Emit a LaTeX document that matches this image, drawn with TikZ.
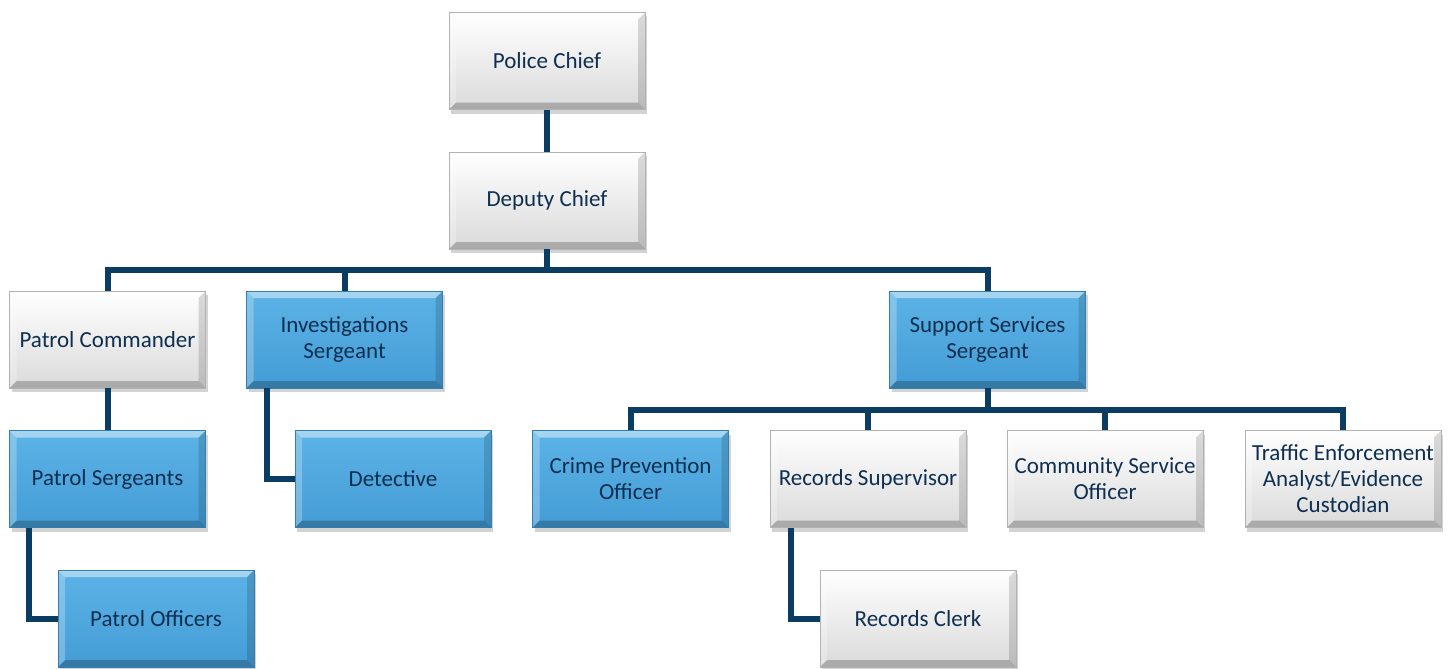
\documentclass[tikz,border=0pt]{standalone}
\usepackage{fontspec}
\setmainfont{Carlito}
\usetikzlibrary{shadows,backgrounds}
\definecolor{txt}{HTML}{0E2F50}
\definecolor{conn}{HTML}{0B3C61}
\definecolor{blueA}{HTML}{5BB3E6}
\definecolor{blueB}{HTML}{449CD6}
\definecolor{grayA}{HTML}{FFFFFF}
\definecolor{grayB}{HTML}{DADADA}
\tikzset{
  bevel/.style={path picture={
    \def\b{7pt}
    \coordinate (bnw) at (path picture bounding box.north west);
    \coordinate (bne) at (path picture bounding box.north east);
    \coordinate (bsw) at (path picture bounding box.south west);
    \coordinate (bse) at (path picture bounding box.south east);
    \fill[white,opacity=0.45] (bnw) -- (bne) -- ([xshift=-\b,yshift=-\b]bne) -- ([xshift=\b,yshift=-\b]bnw) -- cycle;
    \fill[white,opacity=0.25] (bnw) -- (bsw) -- ([xshift=\b,yshift=\b]bsw) -- ([xshift=\b,yshift=-\b]bnw) -- cycle;
    \fill[black,opacity=0.22] (bsw) -- (bse) -- ([xshift=-\b,yshift=\b]bse) -- ([xshift=\b,yshift=\b]bsw) -- cycle;
    \fill[black,opacity=0.14] (bse) -- (bne) -- ([xshift=-\b,yshift=-\b]bne) -- ([xshift=-\b,yshift=\b]bse) -- cycle;
  }},
  box/.style={rectangle, minimum width=196pt, minimum height=97pt, inner sep=2pt,
    align=center, text=txt, font=\fontsize{23}{26}\selectfont, bevel,
    drop shadow={opacity=0.35, shadow xshift=2pt, shadow yshift=-4pt}},
  graybox/.style={box, top color=grayA, bottom color=grayB, draw=gray!60, line width=0.6pt},
  bluebox/.style={box, top color=blueA, bottom color=blueB, draw=blueB!80!black, line width=0.6pt},
  link/.style={draw=conn, line width=6pt, line join=miter},
}
\begin{document}
\begin{tikzpicture}[x=1pt,y=-1pt]
\useasboundingbox (0,0) rectangle (1456,669);
\node[graybox] (chief) at (547,61) {Police Chief};
\node[graybox] (dep) at (547,200.5) {Deputy Chief};
\node[graybox] (pc) at (107.5,339.5) {Patrol Commander};
\node[bluebox] (inv) at (344.5,339.5) {Investigations\\Sergeant};
\node[bluebox] (sup) at (987.5,339.5) {Support Services\\Sergeant};
\node[bluebox] (ps) at (107.5,479) {Patrol Sergeants};
\node[bluebox] (det) at (393,479) {Detective};
\node[bluebox] (po) at (156,618.5) {Patrol Officers};
\node[bluebox] (cp) at (630.5,479) {Crime Prevention\\Officer};
\node[graybox] (rs) at (868,479) {Records Supervisor};
\node[graybox] (cs) at (1105,479) {Community Service\\Officer};
\node[graybox] (te) at (1343,479) {Traffic Enforcement\\Analyst/Evidence\\Custodian};
\node[graybox] (rc) at (918,618.5) {Records Clerk};
\coordinate (busA) at (547,270);
\coordinate (busB) at (987.5,409.5);
\path[link] (chief.south) -- (dep.north);
\path[link] (dep.south) -- (busA);
\path[link] (busA) -| (pc.north);
\path[link] (busA) -| (inv.north);
\path[link] (busA) -| (sup.north);
\path[link] (pc.south) -- (ps.north);
\path[link] ([xshift=21pt]inv.south west) |- (det.west);
\path[link] ([xshift=20pt]ps.south west) |- (po.west);
\path[link] (sup.south) -- (busB);
\path[link] (busB) -| (cp.north);
\path[link] (busB) -| (rs.north);
\path[link] (busB) -| (cs.north);
\path[link] (busB) -| (te.north);
\path[link] ([xshift=21pt]rs.south west) |- (rc.west);
\end{tikzpicture}
\end{document}
